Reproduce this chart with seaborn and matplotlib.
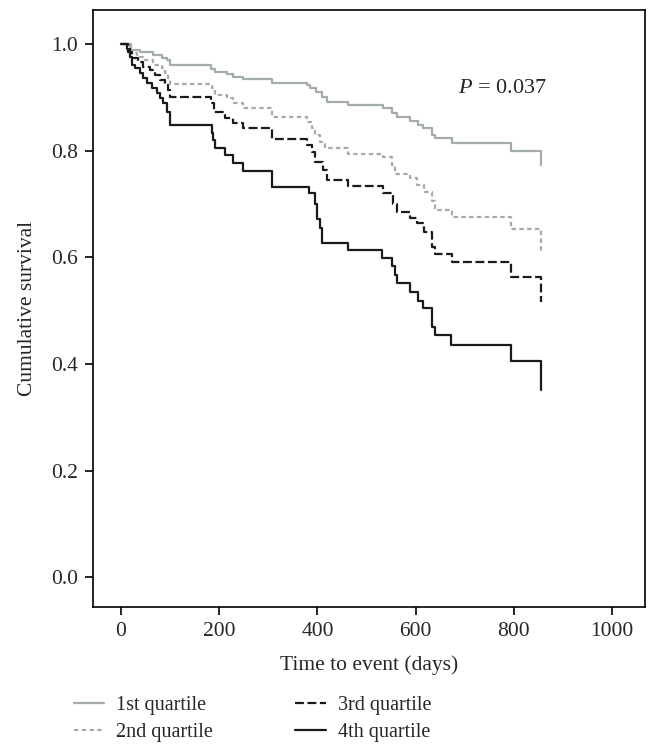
import pandas as pd
import numpy as np
import matplotlib
matplotlib.use("Agg")
import matplotlib.pyplot as plt
import seaborn as sns

# Kaplan-Meier steps (time in days, cumulative survival)
q1_time = [0, 20, 39, 65, 83, 94, 100, 183, 191, 215, 229, 249, 307, 378, 385, 398, 409, 419, 462,
           534, 552, 561, 589, 605, 615, 633, 640, 674, 794, 855]
q1_surv = [1.0, 0.989, 0.985, 0.979, 0.974, 0.970, 0.960, 0.953, 0.948, 0.943, 0.938, 0.934, 0.927,
           0.923, 0.917, 0.910, 0.901, 0.891, 0.886, 0.880, 0.871, 0.863, 0.856, 0.848, 0.842, 0.830,
           0.823, 0.815, 0.800, 0.773]

q2_time = [0, 18, 32, 45, 65, 83, 90, 96, 100, 185, 191, 215, 229, 249, 307, 378, 388, 395, 405, 416,
           462, 534, 552, 558, 589, 602, 616, 633, 640, 674, 794, 855]
q2_surv = [1.0, 0.983, 0.976, 0.970, 0.960, 0.955, 0.946, 0.936, 0.925, 0.917, 0.904, 0.898, 0.889,
           0.880, 0.863, 0.853, 0.842, 0.830, 0.816, 0.804, 0.793, 0.788, 0.773, 0.756, 0.748, 0.735,
           0.722, 0.705, 0.688, 0.675, 0.653, 0.610]

q3_time = [0, 14, 22, 35, 45, 59, 69, 79, 90, 96, 100, 183, 189, 212, 228, 249, 307, 378, 388, 395,
           412, 419, 462, 533, 554, 562, 589, 602, 616, 633, 640, 674, 794, 855]
q3_surv = [1.0, 0.985, 0.974, 0.966, 0.957, 0.951, 0.942, 0.932, 0.923, 0.914, 0.900, 0.889, 0.872,
           0.861, 0.852, 0.842, 0.822, 0.810, 0.797, 0.778, 0.763, 0.745, 0.734, 0.720, 0.700, 0.685,
           0.673, 0.664, 0.647, 0.620, 0.606, 0.591, 0.563, 0.516]

q4_time = [0, 12, 18, 22, 28, 39, 45, 53, 63, 73, 79, 86, 94, 100, 185, 188, 191, 212, 228, 249, 307,
           383, 395, 400, 405, 410, 462, 532, 552, 558, 562, 589, 605, 615, 633, 640, 672, 794, 855]
q4_surv = [1.0, 0.990, 0.976, 0.960, 0.955, 0.946, 0.936, 0.927, 0.917, 0.908, 0.899, 0.889, 0.872,
           0.848, 0.833, 0.820, 0.805, 0.792, 0.776, 0.762, 0.732, 0.720, 0.700, 0.672, 0.655, 0.627,
           0.613, 0.598, 0.583, 0.566, 0.552, 0.535, 0.518, 0.505, 0.470, 0.454, 0.435, 0.405, 0.351]

groups = ["1st quartile", "2nd quartile", "3rd quartile", "4th quartile"]
x_ticks = [0, 200, 400, 600, 800, 1000]
y_ticks = [0.0, 0.2, 0.4, 0.6, 0.8, 1.0]

frames = []
for g, t, s in zip(groups, [q1_time, q2_time, q3_time, q4_time], [q1_surv, q2_surv, q3_surv, q4_surv]):
    frames.append(pd.DataFrame({"time": t, "surv": s, "group": g}))
df = pd.concat(frames, ignore_index=True)

sns.set_style("ticks")
plt.rcParams["font.family"] = ["Liberation Serif", "DejaVu Serif"]
plt.rcParams["mathtext.fontset"] = "custom"
plt.rcParams["mathtext.it"] = "Liberation Serif:italic"
plt.rcParams["mathtext.rm"] = "Liberation Serif"

palette = {"1st quartile": "#a3abab", "2nd quartile": "#a3abab",
           "3rd quartile": "#1a1a1a", "4th quartile": "#1a1a1a"}
dashes = {"1st quartile": "", "2nd quartile": (2, 1.5),
          "3rd quartile": (4, 1.6), "4th quartile": ""}

fig = plt.figure(figsize=(6.57, 7.56), dpi=100)
ax = fig.add_axes([0.1416, 0.197, 0.8401, 0.790])

sns.lineplot(data=df, x="time", y="surv", hue="group", style="group", palette=palette,
             dashes=dashes, estimator=None, sort=False, drawstyle="steps-post",
             linewidth=1.6, ax=ax, legend=True)

ax.set_xlim(-57, 1067)
ax.set_ylim(-0.056, 1.064)
ax.set_xticks(x_ticks)
ax.set_yticks(y_ticks)
ax.set_yticklabels([f"{v:.1f}" for v in y_ticks])
ax.tick_params(direction="out", length=6, width=1.2, labelsize=15.5, color="black", pad=5)
for sp in ax.spines.values():
    sp.set_visible(True)
    sp.set_linewidth(1.2)
    sp.set_color("black")

ax.set_xlabel("Time to event (days)", fontsize=15.5, labelpad=10)
ax.set_ylabel("Cumulative survival", fontsize=15.5, labelpad=10)

ax.text(776, 0.917, "$P$ = 0.037", fontsize=16, ha="center", va="center")

handles, labels = ax.get_legend_handles_labels()
ax.get_legend().remove()
leg = fig.legend(handles, labels,
                 loc="upper left", bbox_to_anchor=(0.112, 0.080), ncol=2, frameon=False,
                 fontsize=14.5, handlelength=1.5, columnspacing=4.1, labelspacing=0.42,
                 handletextpad=0.6, borderpad=0, borderaxespad=0)

fig.savefig("out.png", dpi=100)
